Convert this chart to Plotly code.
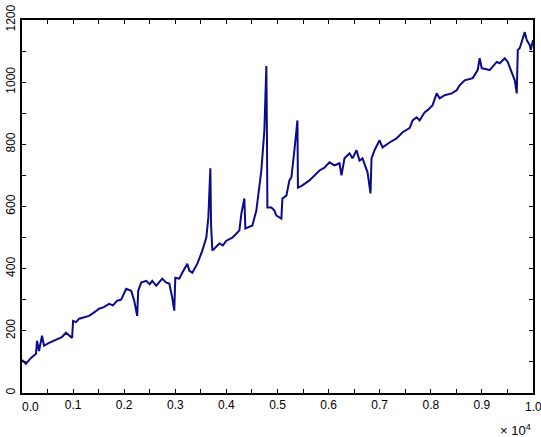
import plotly.graph_objects as go

# Sample index (x) and value (y)
x_vals = [0, 78, 176, 274, 294, 333, 392, 431, 529, 620, 700, 780, 862, 921, 980,
          1000, 1060, 1118, 1200, 1313, 1400, 1509, 1600, 1705, 1780, 1862, 1940, 2000, 2039,
          2137, 2196, 2254, 2274, 2333, 2431, 2500, 2549, 2627, 2745, 2823, 2882,
          2941, 2980, 3000, 3078, 3137, 3235, 3274, 3333, 3431, 3529, 3607, 3647,
          3686, 3700, 3725, 3800, 3862, 3930, 4000, 4060, 4117, 4180, 4254, 4293, 4351,
          4371, 4440, 4508, 4586, 4684, 4743, 4782, 4795, 4802, 4880, 4939, 4978,
          5076, 5096, 5174, 5233, 5272, 5331, 5390, 5400, 5488, 5625, 5720, 5821,
          5920, 6017, 6115, 6213, 6252, 6311, 6409, 6468, 6546, 6605, 6664, 6762,
          6820, 6840, 6899, 6997, 7056, 7193, 7330, 7448, 7585, 7644, 7722, 7781,
          7879, 7938, 8036, 8114, 8173, 8271, 8408, 8506, 8565, 8663, 8820, 8918,
          8957, 8996, 9153, 9290, 9349, 9447, 9506, 9584, 9643, 9682, 9702, 9741,
          9780, 9839, 9878, 9937, 9956, 10000]
y_vals = [106, 94, 113, 126, 168, 135, 184, 152, 161, 168, 175, 180, 194, 184, 177,
          232, 228, 239, 242, 248, 258, 271, 276, 287, 282, 297, 300, 323, 335,
          329, 297, 248, 329, 355, 361, 350, 361, 345, 368, 355, 352,
          306, 265, 371, 368, 387, 416, 394, 387, 416, 458, 500, 565,
          723, 540, 458, 470, 481, 475, 490, 495, 500, 510, 523, 577, 626,
          529, 535, 539, 587, 716, 845, 1052, 800, 597, 597, 587, 571,
          561, 626, 635, 684, 694, 781, 877, 661, 668, 684, 700, 716,
          725, 742, 732, 739, 700, 755, 771, 755, 781, 748, 755, 710,
          642, 755, 781, 813, 790, 806, 819, 839, 852, 877, 887, 877,
          903, 910, 926, 964, 948, 958, 964, 974, 990, 1006, 1013, 1039,
          1077, 1045, 1039, 1065, 1061, 1077, 1065, 1029, 1006, 964, 1103, 1110,
          1129, 1161, 1135, 1119, 1103, 1135]

x_tick_vals = [i * 500 for i in range(21)]
x_tick_text = ["" if i % 2 else f"{i / 20:.1f}" for i in range(21)]
# end labels are drawn as annotations (0.0 is offset inward, 1.0 sits at the edge)
x_tick_text[0] = ""
x_tick_text[-1] = ""
y_tick_vals = [i * 100 for i in range(13)]
y_tick_text = ["" if i % 2 else str(i * 100) for i in range(13)]

font = dict(family="Liberation Sans", size=12, color="black")

fig = go.Figure()
fig.add_trace(go.Scatter(x=x_vals, y=y_vals, mode="lines",
                         line=dict(color="#0a0a8c", width=2), showlegend=False,
                         hoverinfo="skip"))

fig.update_layout(
    width=541, height=437,
    margin=dict(l=22, r=8, t=20, b=44, autoexpand=False),
    paper_bgcolor="white", plot_bgcolor="white",
    font=font,
    xaxis=dict(range=[0, 10000], tickvals=x_tick_vals, ticktext=x_tick_text,
               ticks="inside", ticklen=4, tickwidth=1, tickcolor="black",
               showline=True, linecolor="black", linewidth=2, mirror="ticks",
               showgrid=False, zeroline=False, tickfont=font, automargin=False),
    yaxis=dict(range=[0, 1200], tickvals=y_tick_vals, ticktext=y_tick_text,
               ticks="inside", ticklen=4, tickwidth=1, tickcolor="black",
               showline=True, linecolor="black", linewidth=2, mirror="ticks",
               showgrid=False, zeroline=False, tickangle=-90, tickfont=font,
               automargin=False),
    annotations=[
        dict(text="0.0", x=160, xref="x", y=0, yref="paper", yshift=-14,
             showarrow=False, font=font, xanchor="center", yanchor="middle"),
        dict(text="1.0", x=10000, xref="x", y=0, yref="paper", yshift=-14,
             showarrow=False, font=font, xanchor="center", yanchor="middle"),
        dict(text="× 10<sup>4</sup>", x=1, xref="paper", y=0, yref="paper",
             yshift=-37, xanchor="right", yanchor="middle", showarrow=False,
             font=dict(family="Liberation Sans", size=13, color="black")),
    ],
)

fig.write_html("out.html", config={"displayModeBar": False},
               post_script="document.body.style.margin='0';document.body.style.overflow='hidden';")
